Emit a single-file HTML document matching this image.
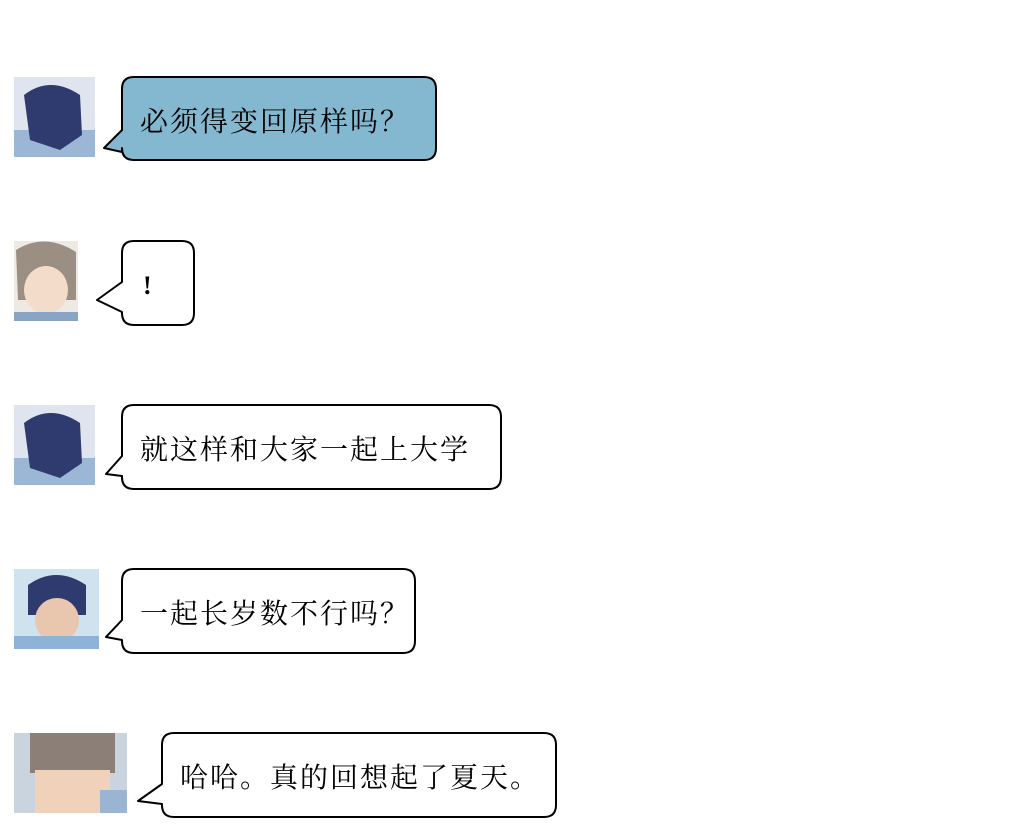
<!DOCTYPE html>
<html><head><meta charset="utf-8"><style>
body{margin:0;background:#fff;width:1019px;height:828px;overflow:hidden}
svg{position:absolute;left:0;top:0}
text{font-family:"Noto Serif CJK SC","Liberation Serif",serif;font-size:28px;letter-spacing:2px;fill:#000}
</style></head><body>
<svg width="1019" height="828" viewBox="0 0 1019 828">
<g>
<rect x="14" y="77" width="81" height="80" fill="#dfe4ee"/>
<rect x="14" y="130" width="81" height="27" fill="#9cb7d6"/>
<path d="M24 95 Q50 75 80 95 L82 135 L60 150 L30 140 Z" fill="#2f3a6e"/>
</g>
<g>
<rect x="14" y="241" width="64" height="80" fill="#efe9e4"/>
<path d="M16 250 Q45 232 76 252 L76 300 L18 300 Z" fill="#9b8e82"/>
<ellipse cx="46" cy="290" rx="22" ry="24" fill="#f4dccb"/>
<rect x="14" y="312" width="64" height="9" fill="#8aa4c6"/>
</g>
<g>
<rect x="14" y="405" width="81" height="80" fill="#dfe4ee"/>
<rect x="14" y="458" width="81" height="27" fill="#9cb7d6"/>
<path d="M24 423 Q50 403 80 423 L82 463 L60 478 L30 468 Z" fill="#2f3a6e"/>
</g>
<g>
<rect x="14" y="569" width="85" height="80" fill="#cfe3ef"/>
<path d="M28 585 Q56 565 86 585 L86 615 L28 615 Z" fill="#2f3a6e"/>
<ellipse cx="57" cy="620" rx="22" ry="22" fill="#e9c7ae"/>
<rect x="14" y="636" width="85" height="13" fill="#8fb3d6"/>
</g>
<g>
<rect x="14" y="733" width="113" height="80" fill="#c9d4df"/>
<rect x="30" y="733" width="85" height="40" fill="#8c7f77"/>
<rect x="35" y="770" width="75" height="43" fill="#f0d2bb"/>
<rect x="100" y="790" width="27" height="23" fill="#9ab4d2"/>
</g>
<g stroke="#000" stroke-width="2" stroke-linejoin="round">
<path d="M134 77 H424 Q436 77 436 89 V148 Q436 160 424 160 H134 Q122 160 122 148 V152 L104 148 L122 130 V89 Q122 77 134 77 Z" fill="#84b8d0"/>
<path d="M134 241 H182 Q194 241 194 253 V313 Q194 325 182 325 H134 Q122 325 122 313 V312 L97 300 L122 282 V253 Q122 241 134 241 Z" fill="#fff"/>
<path d="M134 405 H489 Q501 405 501 417 V477 Q501 489 489 489 H134 Q122 489 122 477 V476 L106 474 L122 456 V417 Q122 405 134 405 Z" fill="#fff"/>
<path d="M134 569 H403 Q415 569 415 581 V641 Q415 653 403 653 H134 Q122 653 122 641 V640 L106 637 L122 620 V581 Q122 569 134 569 Z" fill="#fff"/>
<path d="M174 733 H544 Q556 733 556 745 V805 Q556 817 544 817 H174 Q162 817 162 805 V804 L138 801 L162 784 V745 Q162 733 174 733 Z" fill="#fff"/>
</g>
<text x="140" y="131">必须得变回原样吗？</text>
<text x="143" y="294" style="font-family:'Liberation Serif',serif;font-weight:bold;font-size:26px">!</text>
<text x="140" y="459">就这样和大家一起上大学</text>
<text x="140" y="623">一起长岁数不行吗？</text>
<text x="180" y="787">哈哈。真的回想起了夏天。</text>
</svg>
</body></html>
